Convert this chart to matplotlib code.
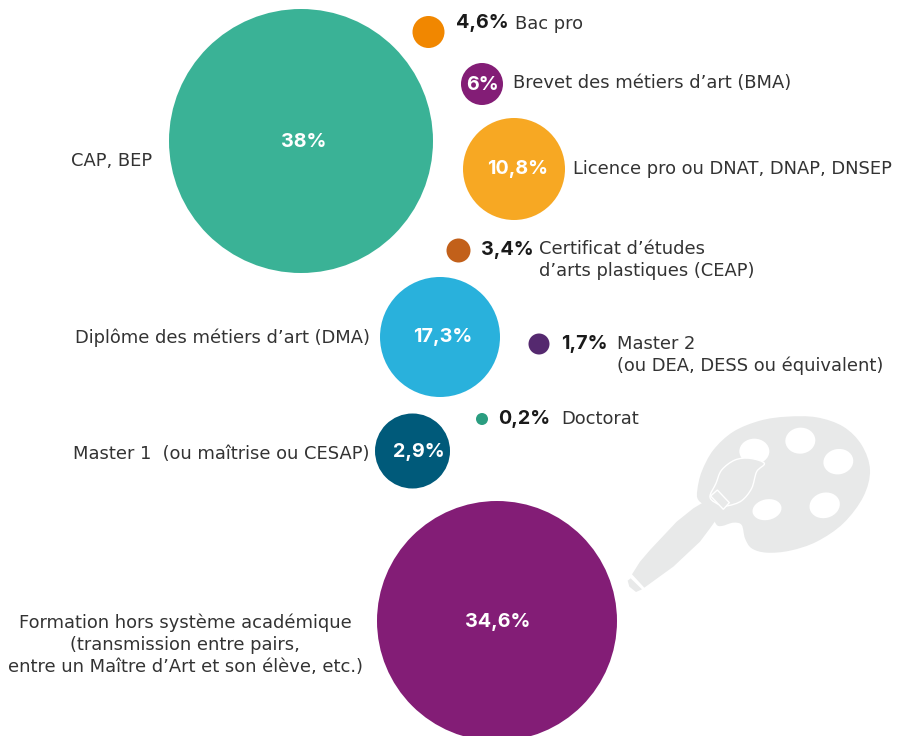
import matplotlib
matplotlib.use('Agg')
import matplotlib.pyplot as plt
from matplotlib.patches import Circle, Ellipse, PathPatch, Polygon
from matplotlib.path import Path
import numpy as np

plt.rcParams['font.family'] = 'DejaVu Sans'

values = ['38%', '4,6%', '6%', '10,8%', '3,4%', '17,3%', '1,7%', '0,2%', '2,9%', '34,6%']
colors = ['#3AB296', '#F18700', '#831D76', '#F7A823', '#C2601A',
          '#29B1DC', '#55296F', '#2A9D80', '#005A7A', '#831D76']
# bubble centres and radii, in reference pixels
cx = [301, 428.5, 482, 514, 458.5, 440, 539, 482, 412.5, 497]
cy = [141, 32, 84, 169, 250.5, 337, 344, 419, 451, 621]
radius = [132, 16, 21, 51, 12, 60, 10.5, 6, 37.5, 120]

inside_x = [304, None, 482, 518, None, 443, None, None, 419, 498]
inside_y = [142, None, 85, 169, None, 337, None, None, 452, 622]

outside_vals = {1: (456, 23), 4: (481, 250), 6: (561, 344), 7: (498, 419)}

labels = [
    (71, 161, 'left', 'CAP, BEP'),
    (515, 24, 'left', 'Bac pro'),
    (513, 83, 'left', 'Brevet des métiers d’art (BMA)'),
    (573, 169, 'left', 'Licence pro ou DNAT, DNAP, DNSEP'),
    (539, 249, 'left', 'Certificat d’études'),
    (539, 271, 'left', 'd’arts plastiques (CEAP)'),
    (75, 338, 'left', 'Diplôme des métiers d’art (DMA)'),
    (617, 344, 'left', 'Master 2'),
    (617, 366, 'left', '(ou DEA, DESS ou équivalent)'),
    (561, 419, 'left', 'Doctorat'),
    (73, 454, 'left', 'Master 1  (ou maîtrise ou CESAP)'),
    (185, 623, 'center', 'Formation hors système académique'),
    (185, 645, 'center', '(transmission entre pairs,'),
    (185, 667, 'center', 'entre un Maître d’Art et son élève, etc.)'),
]

# palette + brush outlines (3x, offset 610,410)
palette_pts = [(265, 270), (262, 240), (275, 185), (310, 120), (370, 65), (450, 32), (530, 20),
               (620, 22), (700, 50), (755, 105), (780, 180), (760, 260), (700, 340), (620, 395),
               (540, 422), (470, 428), (425, 415), (405, 385), (395, 345), (370, 338), (335, 348),
               (318, 342), (300, 300)]
holes = [(433, 124, 45, 38, 0), (571, 92, 45, 39, -5), (685, 155, 45, 38, -10),
         (644, 286, 46, 38, -15), (471, 299, 44, 31, -12)]
bristle_pts = [(300, 262), (318, 220), (335, 180), (375, 150), (420, 145), (463, 160), (440, 185),
               (425, 235), (395, 272), (355, 287), (330, 285)]
handle_pts = [(295, 268), (335, 306), (300, 355), (270, 395), (190, 470), (103, 533), (66, 493),
              (90, 455), (120, 420), (200, 335), (250, 295)]
ferrule_pts = [(302, 258), (322, 240), (358, 278), (340, 298)]
tip_pts = [(62, 505), (96, 538), (78, 546), (58, 530), (53, 512)]


def to_px(pts):
    pts = np.array(pts, dtype=float)
    return np.column_stack([610 + pts[:, 0] / 3, 410 + pts[:, 1] / 3])


def smooth_path(pts):
    # closed cubic through the points (Catmull-Rom)
    p = to_px(pts)
    n = len(p)
    verts = [p[0]]
    codes = [Path.MOVETO]
    for i in range(n):
        p0, p1, p2, p3 = p[i - 1], p[i], p[(i + 1) % n], p[(i + 2) % n]
        verts += [p1 + (p2 - p0) / 6, p2 - (p3 - p1) / 6, p2]
        codes += [Path.CURVE4] * 3
    return Path(verts, codes)


grey = '#E8E9E9'
fig = plt.figure(figsize=(8.97, 7.36), dpi=100)
ax = fig.add_axes([0, 0, 1, 1])
ax.set_xlim(0, 897)
ax.set_ylim(736, 0)
ax.axis('off')

ax.add_patch(PathPatch(smooth_path(palette_pts), fc=grey, ec='none', zorder=1))
for hx, hy, w, h, ang in holes:
    p = to_px([(hx, hy)])[0]
    ax.add_patch(Ellipse(p, w * 2 / 3, h * 2 / 3, angle=ang, fc='white', ec='none', zorder=2))
ax.add_patch(PathPatch(smooth_path(bristle_pts), fc=grey, ec='white', lw=1.0, zorder=3))
ax.add_patch(Polygon(to_px(handle_pts), closed=True, fc=grey, ec='none', zorder=3))
ax.add_patch(Polygon(to_px(ferrule_pts), closed=True, fc=grey, ec='white', lw=1.0, zorder=4))
ax.add_patch(Polygon(to_px(tip_pts), closed=True, fc=grey, ec='none', zorder=3))

for x, y, r, c in zip(cx, cy, radius, colors):
    ax.add_patch(Circle((x, y), r, fc=c, ec='none', zorder=5))

for v, x, y in zip(values, inside_x, inside_y):
    if x is not None:
        ax.text(x, y, v, color='white', fontsize=14.2, fontweight='bold', family='Inter',
                ha='center', va='center', zorder=6)

for i, (x, y) in outside_vals.items():
    ax.text(x, y, values[i], color='#1A1A1A', fontsize=14.2, fontweight='bold', family='Inter',
            ha='left', va='center', zorder=6)

for x, y, ha, s in labels:
    ax.text(x, y, s, color='#333333', fontsize=12.85, ha=ha, va='center', zorder=6)

fig.savefig('out.png', dpi=100)
plt.close()
